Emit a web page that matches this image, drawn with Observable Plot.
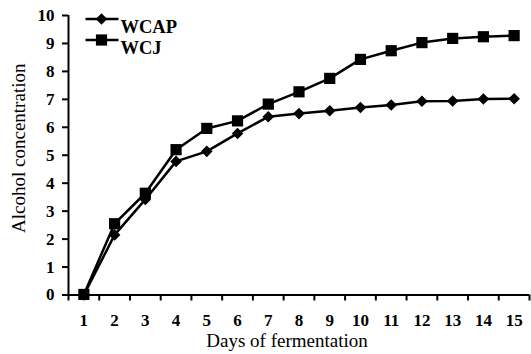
<!DOCTYPE html>
<html><head><meta charset="utf-8">
<script src="https://cdn.jsdelivr.net/npm/d3@7"></script>
<script src="https://cdn.jsdelivr.net/npm/@observablehq/plot@0.6"></script>
<style>
body{margin:0;background:#fff;}
#chart svg{display:block;font-family:"Liberation Serif","Times New Roman",serif;}
</style></head><body><div id="chart"></div>
<script>
const days = [1,2,3,4,5,6,7,8,9,10,11,12,13,14,15];
const wcap = [0.00,2.15,3.42,4.78,5.14,5.78,6.38,6.49,6.59,6.71,6.80,6.93,6.94,7.01,7.02];
const wcj  = [0.02,2.55,3.64,5.20,5.96,6.23,6.83,7.27,7.75,8.43,8.74,9.03,9.18,9.24,9.28];
const seriesNames = ["WCAP","WCJ"];
const yTicks = [0,1,2,3,4,5,6,7,8,9,10];
const xTickLabels = days;
const xAxisTitle = "Days of fermentation";
const yAxisTitle = "Alcohol concentration";

const rows = [
  ...days.map((d,i)=>({day:d, value:wcap[i], series:seriesNames[0]})),
  ...days.map((d,i)=>({day:d, value:wcj[i], series:seriesNames[1]}))
];
const xBandEdges = d3.range(days[0]-0.5, days[days.length-1]+1, 1);

const diamond = {draw(ctx,size){const r=Math.sqrt(size/Math.PI); ctx.moveTo(0,-r);ctx.lineTo(r,0);ctx.lineTo(0,r);ctx.lineTo(-r,0);ctx.closePath();}};
const square = {draw(ctx,size){const r=Math.sqrt(size/Math.PI); ctx.rect(-r,-r,2*r,2*r);}};
const hline = {draw(ctx,size){const r=Math.sqrt(size/Math.PI); ctx.moveTo(-r,0); ctx.lineTo(r,0);}};
const symbols = {WCAP: {sym: diamond, r: 5.8}, WCJ: {sym: square, r: 5.6}};

const legendMarks = seriesNames.flatMap((name,i)=>[
  Plot.dot([name], {frameAnchor:"top-left", dx:33.5, dy:3.5 + i*21, symbol:hline, r:16.5, stroke:"black", strokeWidth:2.5, fill:"none"}),
  Plot.dot([name], {frameAnchor:"top-left", dx:33, dy:3.5 + i*21, symbol:symbols[name].sym, r:symbols[name].r, fill:"black"}),
  Plot.text([name], {text:d=>d, frameAnchor:"top-left", dx:52, dy:4 + i*21, textAnchor:"start", fontSize:18.5, fontWeight:"bold"})
]);

const chart = Plot.plot({
  width:531, height:354,
  marginLeft:68, marginRight:2, marginTop:15, marginBottom:59.5,
  x:{domain:[xBandEdges[0], xBandEdges[xBandEdges.length-1]]},
  y:{domain:[0,10]},
  style:{fontFamily:'"Liberation Serif","Times New Roman",serif', color:"#000", background:"#fff"},
  marks:[
    Plot.axisY({ticks:yTicks, tickSize:6, tickPadding:8, fontSize:17, fontWeight:"bold", label:null, strokeWidth:2}),
    Plot.axisX({ticks:xBandEdges, tickSize:6, tickFormat:()=>"", label:null, strokeWidth:2}),
    Plot.axisX({ticks:xTickLabels, tickSize:0, tickPadding:19, fontSize:17, fontWeight:"bold", label:null}),
    Plot.ruleX([xBandEdges[0]], {strokeWidth:2}),
    Plot.ruleY([0], {strokeWidth:2}),
    Plot.line(rows, {x:"day", y:"value", z:"series", stroke:"black", strokeWidth:2.5}),
    ...seriesNames.map(name => Plot.dot(rows.filter(r=>r.series===name), {x:"day", y:"value", symbol:symbols[name].sym, r:symbols[name].r, fill:"black"})),
    Plot.text([xAxisTitle], {text:d=>d, frameAnchor:"bottom", textAnchor:"middle", dx:-12, dy:52, fontSize:19}),
    Plot.text([yAxisTitle], {text:d=>d, frameAnchor:"left", textAnchor:"middle", dx:-50, dy:-7, rotate:-90, fontSize:19}),
    ...legendMarks
  ]
});
document.getElementById("chart").append(chart);
</script></body></html>
